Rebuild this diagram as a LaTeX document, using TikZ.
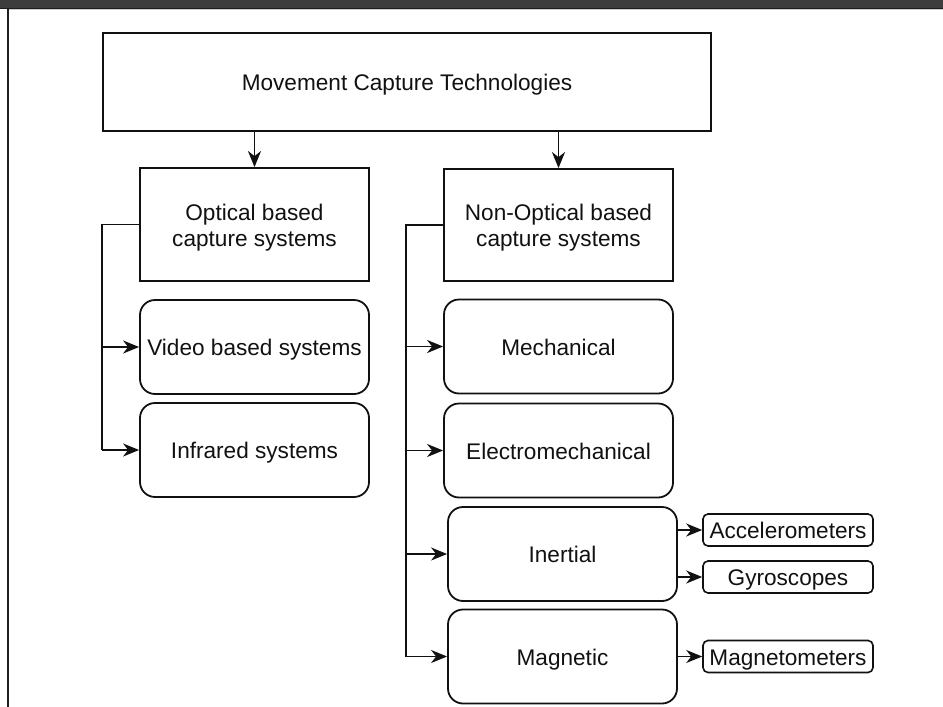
\documentclass[tikz,border=0pt]{standalone}
\usepackage{fontspec}
\setmainfont{Liberation Sans}
\usetikzlibrary{arrows.meta,calc}

\definecolor{barcol}{HTML}{3D3D3D}
\definecolor{edgecol}{HTML}{1E1E1E}
\definecolor{inkcol}{HTML}{111111}

\tikzset{
  txt/.style={font=\fontsize{22.6}{26}\selectfont, text=inkcol, align=center,
              inner sep=0pt, text height=21pt, text depth=4pt},
  twoline/.style={text height=47pt},
  plainbox/.style={txt, draw=inkcol, line width=1.8pt, minimum width=229pt},
  softbox/.style={plainbox, rounded corners=15pt, minimum height=94pt},
  tagbox/.style={txt, draw=inkcol, line width=1.6pt, rounded corners=5pt,
                 minimum width=170pt, minimum height=32pt},
  link/.style={draw=inkcol, line width=1.6pt,
               -{Stealth[length=16pt,width=13pt,inset=5pt]}},
  wire/.style={draw=inkcol, line width=1.6pt}
}

\begin{document}
\begin{tikzpicture}[x=1pt,y=-1pt]
  \useasboundingbox (0,0) rectangle (943,707);
  \fill[white] (0,0) rectangle (943,707);

  % window frame: title bar and left edge
  \fill[barcol] (0,0) rectangle (943,7.5);
  \fill[edgecol] (0,7.5) rectangle (943,8.8);
  \fill[black!20] (9,8.8) rectangle (943,9.8);
  \fill[edgecol] (7.3,7.5) rectangle (9.2,707);

  % root
  \node[plainbox, line width=2pt, minimum width=608pt, minimum height=98pt]
    (top) at (407,82) {Movement Capture Technologies};

  % main branches
  \node[plainbox, twoline, minimum height=113pt] (opt) at (254.5,224.5)
    {Optical based\\capture systems};
  \node[plainbox, twoline, minimum height=112pt] (nonopt) at (558.5,225)
    {Non-Optical based\\capture systems};

  % optical systems
  \node[softbox] (video) at (254.5,347) {Video based systems};
  \node[softbox] (infra) at (254.5,450) {Infrared systems};

  % non-optical systems
  \node[softbox] (mech)    at (558.5,346.5) {Mechanical};
  \node[softbox] (electro) at (558.5,450.5) {Electromechanical};
  \node[softbox] (inert)   at (562.5,554)   {Inertial};
  \node[softbox] (magn)    at (562.5,656.5) {Magnetic};

  % sensors
  \node[tagbox] (accel)  at (788,530)   {Accelerometers};
  \node[tagbox] (gyro)   at (788,577)   {Gyroscopes};
  \node[tagbox] (magnet) at (788,656.5) {Magnetometers};

  % root to branches
  \draw[link] (top.south -| opt.north) -- (opt.north);
  \draw[link] (top.south -| nonopt.north) -- (nonopt.north);

  % optical bus
  \coordinate (optbus) at (102,224.5);
  \draw[wire] (opt.west) -- (optbus) -- (optbus |- infra.west);
  \draw[link] (optbus |- video.west) -- (video.west);
  \draw[link] (optbus |- infra.west) -- (infra.west);

  % non-optical bus
  \coordinate (nonbus) at (406,225);
  \draw[wire] (nonopt.west) -- (nonbus) -- (nonbus |- magn.west);
  \draw[link] (nonbus |- mech.west) -- (mech.west);
  \draw[link] (nonbus |- electro.west) -- (electro.west);
  \draw[link] (nonbus |- inert.west) -- (inert.west);
  \draw[link] (nonbus |- magn.west) -- (magn.west);

  % sensor links
  \draw[link] (inert.east |- accel.west) -- (accel.west);
  \draw[link] (inert.east |- gyro.west) -- (gyro.west);
  \draw[link] (magn.east |- magnet.west) -- (magnet.west);
\end{tikzpicture}
\end{document}
